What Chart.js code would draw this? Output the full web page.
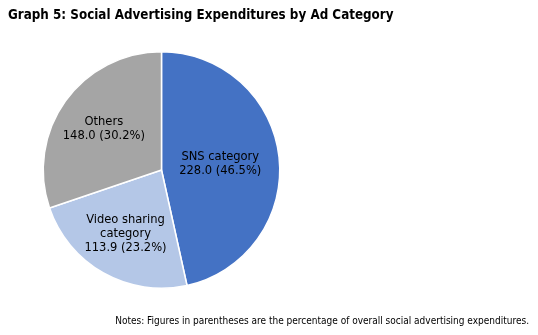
<!DOCTYPE html>
<html>
<head>
<meta charset="utf-8">
<script src="https://cdn.jsdelivr.net/npm/chart.js@4"></script>
<style>
  body { margin: 0; background: #fff; }
  #wrap { position: relative; width: 538px; height: 335px; }
  #title { position: absolute; left: 8px; top: 7px; font: bold 13.3px "DejaVu Sans Condensed", "DejaVu Sans", sans-serif; color: #000; white-space: nowrap; }
  #notes { position: absolute; right: 9px; top: 315px; font: 10px "DejaVu Sans Condensed", "DejaVu Sans", sans-serif; color: #000; white-space: nowrap; }
  canvas { position: absolute; left: 0; top: 0; }
</style>
</head>
<body>
<div id="wrap">
  <canvas id="chart5" width="538" height="335"></canvas>
  <div id="title">Graph 5: Social Advertising Expenditures by Ad Category</div>
  <div id="notes">Notes: Figures in parentheses are the percentage of overall social advertising expenditures.</div>
</div>
<script>
var chart5_labels = ['SNS category', 'Video sharing category', 'Others']

var chart5_values = [228.0, 113.9, 148.0]

var chart5_percent = ['46.5%', '23.2%', '30.2%']

// how the label text wraps inside each slice
var chart5_labelLines = [['SNS category'], ['Video sharing', 'category'], ['Others']]

var chart5_colors = ['#4472c4', '#b4c7e7', '#a5a5a5']

// draws the "name / value (pct)" text inside each slice
var sliceLabels = {
    id: 'sliceLabels',
    afterDatasetsDraw: function (chart) {
        var ctx = chart.ctx
        var meta = chart.getDatasetMeta(0)
        var radFrac = [0.5, 0.62, 0.6]
        ctx.save()
        ctx.font = '12.8px "DejaVu Sans Condensed", "DejaVu Sans", sans-serif'
        ctx.fillStyle = '#000'
        ctx.textAlign = 'center'
        ctx.textBaseline = 'middle'
        meta.data.forEach(function (arc, i) {
            var p = arc.getProps(['x', 'y', 'startAngle', 'endAngle', 'outerRadius'], true)
            var mid = (p.startAngle + p.endAngle) / 2
            var r = p.outerRadius * radFrac[i]
            var cx = p.x + Math.cos(mid) * r
            var cy = p.y + Math.sin(mid) * r
            var lines = chart5_labelLines[i].concat([chart5_values[i].toFixed(1) + ' (' + chart5_percent[i] + ')'])
            var lh = 14
            var y0 = cy - (lines.length - 1) * lh / 2
            lines.forEach(function (t, k) {
                ctx.fillText(t, cx, y0 + k * lh)
            })
        })
        ctx.restore()
    }
}

var chart5 = new Chart(
    document.getElementById('chart5'),
    {
        type: 'pie',
        data: {
            labels: chart5_labels,
            datasets: [
                {
                    data: chart5_values,
                    backgroundColor: chart5_colors,
                    borderColor: '#ffffff',
                    borderWidth: 1.5,
                },
            ],
        },
        options: {
            responsive: false,
            animation: false,
            layout: {
                padding: { left: 42, top: 51, right: 257, bottom: 46 }
            },
            plugins: {
                legend: { display: false },
                tooltip: { enabled: false },
            }
        },
        plugins: [sliceLabels]
    }
);
</script>
</body>
</html>
